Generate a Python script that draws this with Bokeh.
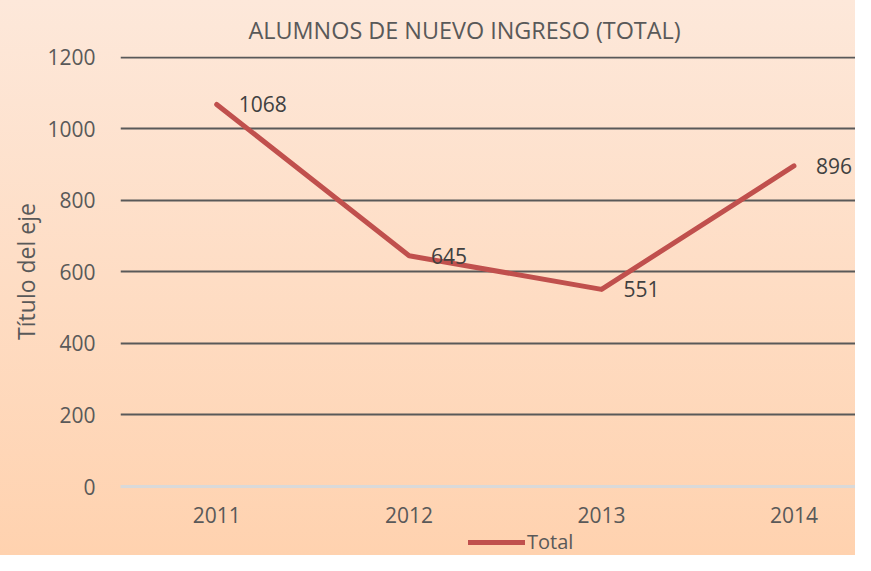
from bokeh.plotting import figure
from bokeh.layouts import column
from bokeh.models import (Range1d, ColumnDataSource, LabelSet, Legend, LegendItem,
                          FixedTicker)
from bokeh.core.properties import value
from bokeh.embed import file_html
from bokeh.resources import INLINE

# ---- data ----
years = [2011, 2012, 2013, 2014]
year_labels = ["2011", "2012", "2013", "2014"]
totals = [1068, 645, 551, 896]
y_ticks = [0, 200, 400, 600, 800, 1000, 1200]
title_text = "ALUMNOS DE NUEVO INGRESO (TOTAL)"
y_title = "Título del eje"
series_name = "Total"

FONT = "Open Sans"
TEXT = "#595959"
LINE = "#C0504D"

p = figure(width=855, height=529, output_backend="svg", toolbar_location=None,
           x_range=Range1d(2010.5, 2014.32), y_range=Range1d(0, 1202),
           min_border_left=120, min_border_right=0, min_border_top=56,
           min_border_bottom=43)
p.background_fill_alpha = 0
p.border_fill_alpha = 0
p.outline_line_color = None

# title
p.title.text = title_text
p.title.align = "left"
p.title.offset = 128
p.title.standoff = 18
p.title.vertical_align = "top"
p.title.text_font = FONT
p.title.text_font_size = "23.4px"
p.title.text_font_style = "normal"
p.title.text_color = TEXT

# grids
p.xgrid.visible = False
p.ygrid.ticker = FixedTicker(ticks=y_ticks[1:])
p.ygrid.grid_line_color = "#595959"
p.ygrid.grid_line_width = 2

# x axis
p.xaxis.ticker = FixedTicker(ticks=years)
p.xaxis.major_label_overrides = {y: l for y, l in zip(years, year_labels)}
p.xaxis.axis_line_color = "#D9D9D9"
p.xaxis.axis_line_width = 3
p.xaxis.major_tick_line_color = None
p.xaxis.minor_tick_line_color = None
p.xaxis.major_label_standoff = 14
p.xaxis.major_label_text_font = FONT
p.xaxis.major_label_text_font_size = "21px"
p.xaxis.major_label_text_color = TEXT

# y axis
p.yaxis.ticker = FixedTicker(ticks=y_ticks)
p.yaxis.axis_line_color = None
p.yaxis.major_tick_line_color = None
p.yaxis.minor_tick_line_color = None
p.yaxis.major_label_standoff = 19
p.yaxis.major_label_text_font = FONT
p.yaxis.major_label_text_font_size = "21px"
p.yaxis.major_label_text_color = TEXT
p.yaxis.axis_label = y_title
p.yaxis.axis_label_text_font = FONT
p.yaxis.axis_label_text_font_size = "23px"
p.yaxis.axis_label_text_font_style = "normal"
p.yaxis.axis_label_text_color = TEXT
p.yaxis.axis_label_standoff = 2

# series
src = ColumnDataSource(dict(x=years, y=totals, t=[str(v) for v in totals]))
r = p.line("x", "y", source=src, line_color=LINE, line_width=5,
           line_cap="round", line_join="round")

labels = LabelSet(x="x", y="y", text="t", source=src, x_offset=22,
                  text_baseline="middle", text_align="left",
                  text_font=value(FONT), text_font_size="21px",
                  text_color="#404040")
p.add_layout(labels)

# legend strip (separate small figure below the chart)
lg = figure(width=855, height=26, output_backend="svg", toolbar_location=None,
            x_range=Range1d(0, 1), y_range=Range1d(0, 1),
            x_axis_type=None, y_axis_type=None,
            min_border=0)
lg.background_fill_alpha = 0
lg.border_fill_alpha = 0
lg.outline_line_color = None
lg.grid.visible = False
r2 = lg.line("x", "y", source=src, line_color=LINE, line_width=5,
             line_cap="round")

legend = Legend(items=[LegendItem(label=series_name, renderers=[r2])],
                location=(348, 0), orientation="horizontal")
legend.glyph_width = 57
legend.glyph_height = 16
legend.padding = 0
legend.margin = 0
legend.label_standoff = 2
legend.border_line_color = None
legend.background_fill_alpha = 0
legend.label_text_font = FONT
legend.label_text_font_size = "20px"
legend.label_text_color = TEXT
lg.add_layout(legend, "center")

layout = column(p, lg, spacing=0)
layout.styles = {"background": "linear-gradient(180deg, #FDE8DA 0%, #FFD2AF 100%)"}

open("out.html", "w").write(file_html(layout, INLINE))
